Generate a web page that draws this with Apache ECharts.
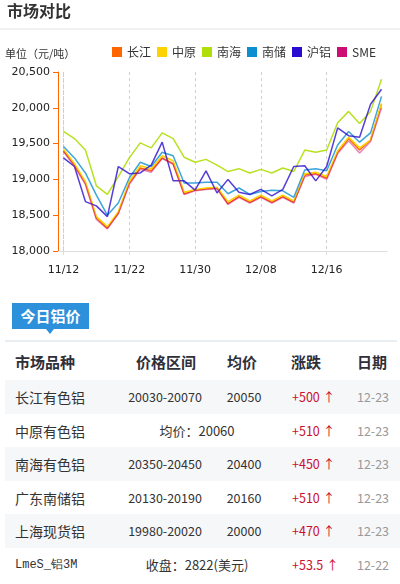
<!DOCTYPE html>
<html>
<head>
<meta charset="utf-8">
<title>市场对比</title>
<script src="https://cdn.jsdelivr.net/npm/echarts@6/dist/echarts.min.js"></script>
<style>
  html, body { margin: 0; padding: 0; background: #fff; width: 400px; height: 584px; overflow: hidden;
    font-family: "Noto Sans CJK SC", "Noto Sans", sans-serif; color: #333; }
  #chart { position: absolute; left: 0; top: 0; width: 400px; height: 290px; }
  #title { position: absolute; left: 7px; top: 0; font-size: 16px; line-height: 20px; font-weight: bold; color: #333; }
  #sep { position: absolute; left: 0; top: 28px; width: 400px; height: 2px; background: #f1f1f1; }
  #tab { position: absolute; left: 12px; top: 303px; width: 77px; height: 26px; background: #2c90da;
    color: #fff; font-size: 15px; font-weight: bold; line-height: 26px; text-align: center; }
  #tab:after { content: ""; position: absolute; left: 34px; top: 26px; border-top: 5px solid #2c90da;
    border-left: 4px solid transparent; border-right: 4px solid transparent; }
  #rule { position: absolute; left: 5px; top: 340px; width: 392px; height: 2px; background: #e9eef3; }
  .row { position: absolute; left: 5px; width: 395px; height: 34px; }
  .row.shade { background: #f6f7f9; }
  .cell { position: absolute; top: 0; height: 34px; line-height: 34px; white-space: nowrap; }
  .hd { font-size: 15px; font-weight: bold; color: #2f2f3a; }
  .name { font-size: 14px; color: #333; }
  .num { font-size: 12.5px; color: #333; }
  .note { font-size: 13px; color: #333; }
  .chg { font-size: 12.5px; color: #c8102e; }
  .chg .arrow { margin-left: 3px; }
  .date { font-size: 12.5px; color: #999; }
  .mono { font-family: "Liberation Mono", "DejaVu Sans Mono", monospace; font-size: 12px; }
</style>
</head>
<body>
<div id="chart"></div>
<div id="title">市场对比</div>
<div id="sep"></div>
<div id="tab">今日铝价</div>
<div id="rule"></div>
<div id="table"></div>
<script>
// Trading days shown on the category axis
const dates = ['11/12','11/15','11/16','11/17','11/18','11/19','11/22','11/23','11/24','11/25',
  '11/26','11/29','11/30','12/01','12/02','12/03','12/06','12/07','12/08','12/09',
  '12/10','12/13','12/14','12/15','12/16','12/17','12/20','12/21','12/22','12/23'];

// Daily aluminium prices per market (元/吨)
const changjiang = [19400,19200,18950,18460,18320,18530,18950,19160,19120,19300,
  19220,18800,18850,18870,18880,18660,18760,18680,18760,18680,
  18760,18680,19060,19080,19020,19380,19570,19410,19550,20050];
const zhongyuan = [19420,19220,18970,18480,18340,18550,18970,19190,19150,19330,
  19260,18820,18860,18880,18890,18690,18780,18700,18780,18700,
  18780,18700,19080,19100,19040,19400,19590,19440,19550,20060];
const nanhai = [19670,19570,19410,18910,18790,19040,19300,19510,19440,19650,
  19570,19310,19240,19280,19200,19110,19150,19090,19140,19090,
  19160,19110,19410,19380,19410,19790,19950,19780,19950,20400];
const nanchu = [19460,19300,19090,18780,18500,18670,19020,19240,19180,19380,
  19330,18950,18950,18960,18960,18800,18880,18790,18830,18850,
  18840,18750,19130,19150,19120,19480,19670,19520,19650,20160];
const hulv = [19300,19180,18690,18630,18480,19180,19080,19090,19200,19520,
  18980,18980,18850,19120,18810,19000,18820,18790,18860,18770,
  18860,19180,19190,18980,19180,19720,19610,19590,20050,20260];
const sme = [19390,19180,18930,18440,18310,18520,18930,19140,19100,19290,
  19210,18790,18840,18860,18870,18650,18750,18670,18750,18670,
  18750,18670,19040,19070,19000,19360,19540,19370,19530,20000];

const seriesNames = ['长江','中原','南海','南储','沪铝','SME'];
const yTicks = [18000, 18500, 19000, 19500, 20000, 20500];

// Today's price table
const headers = ['市场品种','价格区间','均价','涨跌','日期'];
const marketNames = ['长江有色铝','中原有色铝','南海有色铝','广东南储铝','上海现货铝','LmeS_铝3M'];
const priceRanges = ['20030-20070', '', '20350-20450', '20130-20190', '19980-20020', ''];
const avgPrices = ['20050', '', '20400', '20160', '20000', ''];
const mergedNotes = ['', '均价：20060', '', '', '', '收盘：2822(美元)'];
const changes = ['+500','+510','+450','+510','+470','+53.5'];
const tradeDates = ['12-23','12-23','12-23','12-23','12-23','12-22'];

const palette = ['#FF6600','#FCD202','#B0DE09','#0D8ECF','#2A0CD0','#CD0D74'];
const seriesData = [changjiang, zhongyuan, nanhai, nanchu, hulv, sme];
const lineOpacity = [1, 1, 0.9, 0.8, 0.8, 0.5];
const gridDash = { color: '#cfcfcf', type: [3, 3], width: 1 };

const chart = echarts.init(document.getElementById('chart'), null, { renderer: 'canvas' });
chart.setOption({
  animation: false,
  color: palette,
  title: {
    text: '单位（元/吨）', left: 0, top: 43,
    textStyle: { fontSize: 11, fontWeight: 'normal', color: '#333', fontFamily: 'Noto Sans CJK SC' }
  },
  legend: {
    data: seriesNames, left: 107, top: 41, icon: 'rect', itemWidth: 10, itemHeight: 10, itemGap: 6,
    textStyle: { fontSize: 12, color: '#333', fontFamily: 'Noto Sans CJK SC' }
  },
  grid: { left: 58, right: 13, top: 72, bottom: 39 },
  xAxis: {
    type: 'category', data: dates, boundaryGap: true,
    axisLine: { lineStyle: { color: '#dddddd' } },
    axisTick: { show: true, interval: 5, alignWithLabel: true, length: 4, lineStyle: { color: '#dddddd' } },
    axisLabel: { interval: 5, margin: 14, fontSize: 11, color: '#222', fontFamily: 'DejaVu Sans' },
    splitLine: { show: true, showMinLine: true, interval: 5, alignWithLabel: true, lineStyle: gridDash }
  },
  yAxis: {
    type: 'value', min: yTicks[0], max: yTicks[yTicks.length - 1], interval: yTicks[1] - yTicks[0],
    axisLine: { show: true, lineStyle: { color: '#FF6600' } },
    axisTick: { show: true, length: 5, lineStyle: { color: '#FF6600' } },
    axisLabel: { margin: 8, fontSize: 11, color: '#222', fontFamily: 'DejaVu Sans',
      formatter: v => v.toLocaleString('en-US') },
    splitLine: { show: false }
  },
  series: seriesNames.map((name, i) => {
    const s = {
      name, type: 'line', data: seriesData[i], symbol: 'none', z: 3,
      itemStyle: { color: palette[i] },
      lineStyle: { width: 1.5, color: palette[i], opacity: lineOpacity[i] }
    };
    if (i === 0) {
      // grid line on the first labelled day, which the axis split lines leave out
      s.markLine = {
        silent: true, symbol: 'none', label: { show: false }, z: 1,
        lineStyle: gridDash, data: [{ xAxis: dates[0] }]
      };
    }
    return s;
  })
});

// Build the price table rows
const table = document.getElementById('table');
function cell(parent, text, cls, opts) {
  const d = document.createElement('div');
  d.className = 'cell ' + cls;
  d.textContent = text;
  if (opts.center !== undefined) { d.style.left = (opts.center - 100) + 'px'; d.style.width = '200px'; d.style.textAlign = 'center'; }
  else d.style.left = opts.left + 'px';
  parent.appendChild(d);
  return d;
}
const head = document.createElement('div');
head.className = 'row';
head.style.top = '345px';
table.appendChild(head);
cell(head, headers[0], 'hd', { left: 10 });
cell(head, headers[1], 'hd', { center: 161 });
cell(head, headers[2], 'hd', { center: 237 });
cell(head, headers[3], 'hd', { center: 301 });
cell(head, headers[4], 'hd', { center: 367 });

marketNames.forEach((name, i) => {
  const r = document.createElement('div');
  r.className = 'row' + (i % 2 === 0 ? ' shade' : '');
  r.style.top = (380 + i * 33.5) + 'px';
  table.appendChild(r);
  cell(r, name, i === 5 ? 'name mono' : 'name', { left: 10 });
  if (mergedNotes[i]) {
    cell(r, mergedNotes[i], 'note', { center: 192 });
  } else {
    cell(r, priceRanges[i], 'num', { center: 160 });
    cell(r, avgPrices[i], 'num', { center: 239 });
  }
  const c = cell(r, changes[i], 'chg', { left: 287 });
  const arrow = document.createElement('span');
  arrow.className = 'arrow';
  arrow.textContent = '↑';
  c.appendChild(arrow);
  cell(r, tradeDates[i], 'date', { center: 368 });
});
</script>
</body>
</html>
